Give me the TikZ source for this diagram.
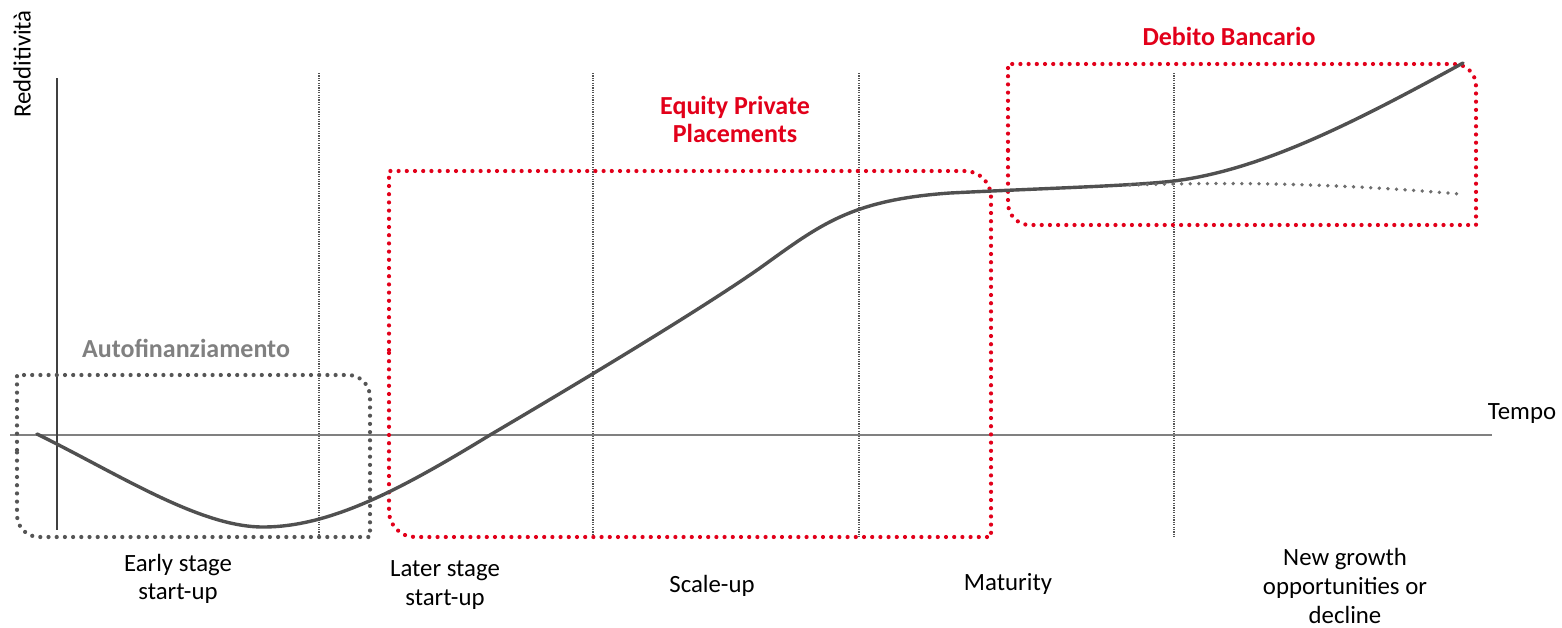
\documentclass[tikz,border=0pt]{standalone}
\usepackage{fontspec}
\setmainfont{Carlito}
\definecolor{bred}{HTML}{E2001A}
\definecolor{curvegray}{HTML}{505050}
\definecolor{boxgray}{HTML}{555555}
\definecolor{labgray}{HTML}{808080}
\begin{document}
\begin{tikzpicture}[x=0.5pt,y=-0.5pt,
  stagelabel/.style={font=\fontsize{12.4}{14.3}\selectfont, align=center, text=black, inner sep=0pt},
  fundlabel/.style={font=\fontsize{13}{14}\selectfont\bfseries, align=center, inner sep=0pt},
  dotbox/.style={line width=2.1pt, line cap=round, dash pattern=on 0pt off 4.1pt},
  phaseline/.style={line width=0.6pt, boxgray, dash pattern=on 0.6pt off 0.6pt},
  curve/.style={line width=1.7pt, curvegray, line cap=round}]
\useasboundingbox (0,0) rectangle (1562,627);

% phase separators
\foreach \xx in {319,593,859,1174}{
  \draw[phaseline] (\xx,73) -- (\xx,537);
}

% axes
\draw[line width=1pt, labgray] (10,435) -- (1492,435);
\draw[line width=1pt, black!75] (57,78) -- (57,530);

% funding boxes
\draw[dotbox, boxgray] (17,450) -- (17,375) [rounded corners=11pt] -- (370,375) [sharp corners] -- (370,537) [rounded corners=11pt] -- (17,537) [sharp corners] -- cycle;
\draw[dotbox, bred] (389,350) -- (389,171) [rounded corners=13pt] -- (991,171) [sharp corners] -- (991,537) [rounded corners=13pt] -- (389,537) [sharp corners] -- cycle;
\draw[dotbox, bred] (1008,150) -- (1008,64) [rounded corners=11pt] -- (1476,64) [sharp corners] -- (1476,225) [rounded corners=11pt] -- (1008,225) [sharp corners] -- cycle;

% curve
\draw[curve] (37,434) .. controls (120,475) and (200,527) .. (263,527)
  .. controls (330,527) and (400,490) .. (490,435)
  .. controls (580,382) and (700,310) .. (760,268)
  .. controls (820,225) and (850,200) .. (950,193)
  .. controls (1050,188) and (1130,186) .. (1174,181)
  .. controls (1260,170) and (1350,125) .. (1463,63);
\draw[line width=1.9pt, boxgray!85, line cap=round, dash pattern=on 0pt off 4.3pt]
  (1130,185) .. controls (1230,182) and (1330,183) .. (1460,194);

% labels
\node[stagelabel] (early) at (178,579) {Early stage\\start-up};
\node[stagelabel] (later) at (445,585) {Later stage\\start-up};
\node[stagelabel] (scale) at (712,586) {Scale-up};
\node[stagelabel] (matur) at (1008,584) {Maturity};
\node[stagelabel] (newg) at (1345,586) {New growth\\opportunities or\\decline};
\node[stagelabel] (tempo) at (1522,414) {Tempo};
\node[stagelabel, rotate=90] (redd) at (22,64) {Redditività};

\node[fundlabel, text=labgray] (auto) at (186,348) {Autofinanziamento};
\node[fundlabel, text=bred] (equity) at (735,119) {Equity Private\\Placements};
\node[fundlabel, text=bred] (debito) at (1229,36) {Debito Bancario};
\end{tikzpicture}
\end{document}
